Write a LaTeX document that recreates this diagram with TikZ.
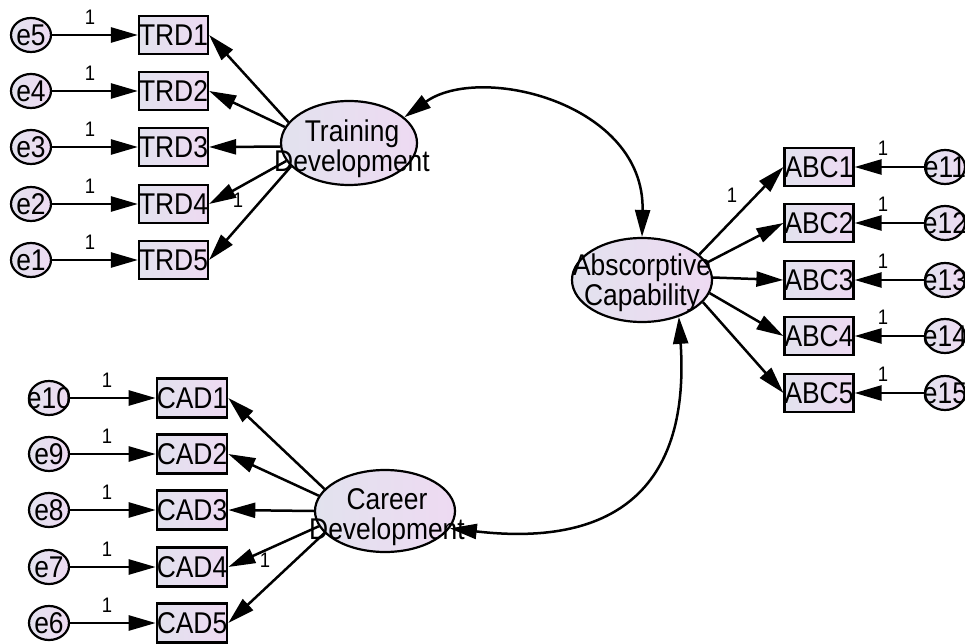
\documentclass[tikz,border=0pt]{standalone}
\usepackage{fontspec}
\setmainfont{Liberation Sans}
\newfontfamily\cfont[FakeStretch=0.88]{Liberation Sans}
\usetikzlibrary{arrows.meta,shapes.geometric}
\definecolor{lavL}{RGB}{226,226,238}
\definecolor{lavR}{RGB}{238,218,242}
\begin{document}
\begin{tikzpicture}[x=1pt,y=1pt,
  obs/.style={draw,line width=2.2pt,rectangle,minimum width=69pt,minimum height=38pt,inner sep=0pt,left color=lavL,right color=lavR,font=\cfont\fontsize{30}{30}\selectfont},
  err/.style={draw,line width=2.2pt,ellipse,minimum width=40pt,minimum height=34pt,inner sep=0pt,left color=lavL,right color=lavR},
  elab/.style={font=\cfont\fontsize{30}{30}\selectfont,inner sep=0pt},
  lat/.style={draw,line width=2.2pt,ellipse,inner sep=0pt,left color=lavL,right color=lavR},
  lattxt/.style={align=center,inner sep=0pt,font=\cfont\fontsize{30}{30}\selectfont},
  ar/.style={line width=2.5pt,-{Triangle[length=27pt,width=15pt]}},
  dar/.style={line width=2.5pt,{Triangle[length=27pt,width=15pt]}-{Triangle[length=27pt,width=15pt]}},
  one/.style={font=\cfont\fontsize{21}{21}\selectfont,inner sep=0pt}
]
\useasboundingbox (0,0) rectangle (965,643);
% ---------- Training Development group ----------
\node[lat,minimum width=136pt,minimum height=84pt] (TD) at (349,500) {};
\node[lattxt] (TDt) at (352,494) {Training\\Development};
\foreach \i/\e/\y in {1/5/608,2/4/552,3/3/496,4/2/439,5/1/383}{
  \node[obs] (TRD\i) at (173.5,\y) {TRD\i};
  \node[err,label={[elab]center:e\e}] (e\e) at (31,\y) {};
  \draw[ar] (e\e) -- (TRD\i);
  \node[one] (o\e) at (90,\y+18) {1};
}
\draw[ar] (TD.161) -- (TRD1.east);
\draw[ar] (TD.166) -- (TRD2.east);
\draw[ar] (TD.183) -- (TRD3.east);
\draw[ar] (TD.196) -- (TRD4.east);
\draw[ar] (TD.202) -- (TRD5.east);
\node[one] (lTD) at (238,443) {1};
% ---------- Absorptive Capability group ----------
\node[lat,minimum width=140pt,minimum height=84pt] (AC) at (642,363) {};
\node[lattxt] (ACt) at (642,360) {Abscorptive\\Capability};
\foreach \i/\e/\y in {1/11/476,2/12/420,3/13/363,4/14/307,5/15/250}{
  \node[obs] (ABC\i) at (819,\y) {ABC\i};
  \node[err,label={[elab]center:e\e}] (e\e) at (945,\y) {};
  \draw[ar] (e\e) -- (ABC\i);
  \node[one] (o\e) at (883,\y+19) {1};
}
\draw[ar] (AC.24) -- (ABC1.west);
\draw[ar] (AC.15) -- (ABC2.west);
\draw[ar] (AC.2) -- (ABC3.west);
\draw[ar] (AC.-11) -- (ABC4.west);
\draw[ar] (AC.-20) -- (ABC5.west);
\node[one] (lAC) at (732,448) {1};
% ---------- Career Development group ----------
\node[lat,minimum width=140pt,minimum height=82pt] (CD) at (385,132) {};
\node[lattxt] (CDt) at (387,126) {Career\\Development};
\foreach \i/\e/\y in {1/10/245,2/9/189,3/8/133,4/7/76,5/6/20}{
  \node[obs,minimum width=70pt,minimum height=39pt] (CAD\i) at (192,\y) {CAD\i};
  \node[err,label={[elab]center:e\e}] (e\e) at (49,\y) {};
  \draw[ar] (e\e) -- (CAD\i);
  \node[one] (o\e) at (107,\y+18) {1};
}
\draw[ar] (CD.160) -- (CAD1.east);
\draw[ar] (CD.167) -- (CAD2.east);
\draw[ar] (CD.180) -- (CAD3.east);
\draw[ar] (CD.193) -- (CAD4.east);
\draw[ar] (CD.200) -- (CAD5.east);
\node[one] (lCD) at (265,83) {1};
% ---------- covariances ----------
\draw[dar] (TD.25) .. controls (480,580) and (645,540) .. (AC.north);
\draw[dar] (CD.-15) .. controls (620,95) and (690,160) .. (AC.-45);
\end{tikzpicture}
\end{document}
